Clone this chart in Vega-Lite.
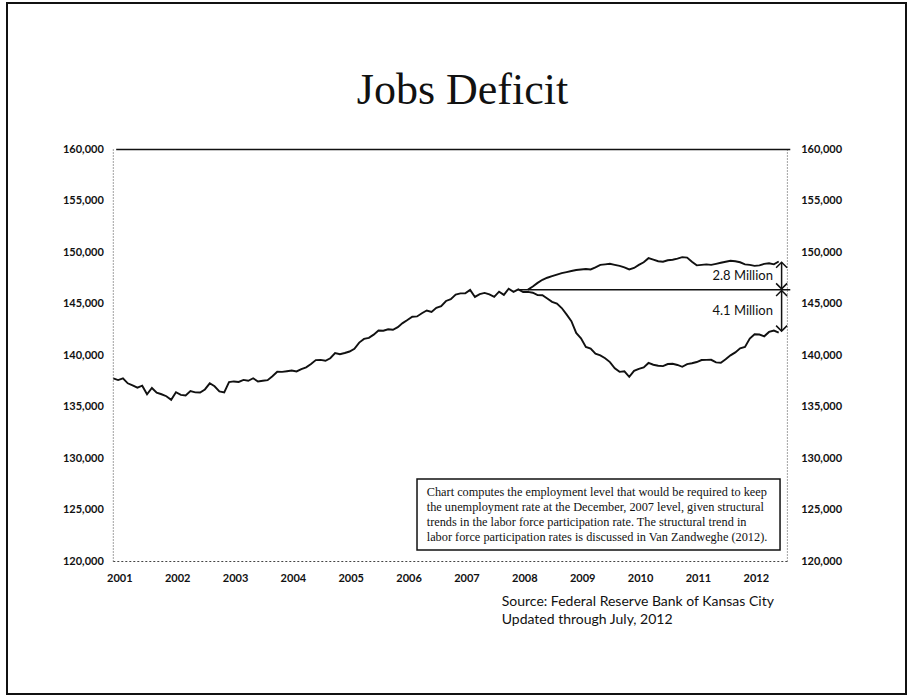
{
  "$schema": "https://vega.github.io/schema/vega-lite/v6.json",
  "width": 899,
  "height": 691,
  "autosize": "none",
  "padding": {"left": 7, "top": 3, "right": 3, "bottom": 2},
  "background": "white",
  "config": {
    "view": {"stroke": "#111", "strokeWidth": 2},
    "font": "Lato"
  },
  "title": {"text": "Jobs Deficit", "font": "Liberation Serif", "fontSize": 44, "fontWeight": "normal", "color": "#111", "anchor": "middle", "frame": "group", "offset": -145, "baseline": "alphabetic", "dx": 6},
  "datasets": {
    "employment": [
      {"series": "actual", "year": 2001.0, "value": 137778}, {"series": "actual", "year": 2001.083, "value": 137612}, {"series": "actual", "year": 2001.167, "value": 137783}, {"series": "actual", "year": 2001.25, "value": 137299}, {"series": "actual", "year": 2001.333, "value": 137092}, {"series": "actual", "year": 2001.417, "value": 136873}, {"series": "actual", "year": 2001.5, "value": 137071}, {"series": "actual", "year": 2001.583, "value": 136241}, {"series": "actual", "year": 2001.667, "value": 136846}, {"series": "actual", "year": 2001.75, "value": 136392}, {"series": "actual", "year": 2001.833, "value": 136238}, {"series": "actual", "year": 2001.917, "value": 136047},
      {"series": "actual", "year": 2002.0, "value": 135701}, {"series": "actual", "year": 2002.083, "value": 136438}, {"series": "actual", "year": 2002.167, "value": 136177}, {"series": "actual", "year": 2002.25, "value": 136126}, {"series": "actual", "year": 2002.333, "value": 136539}, {"series": "actual", "year": 2002.417, "value": 136415}, {"series": "actual", "year": 2002.5, "value": 136413}, {"series": "actual", "year": 2002.583, "value": 136705}, {"series": "actual", "year": 2002.667, "value": 137302}, {"series": "actual", "year": 2002.75, "value": 137008}, {"series": "actual", "year": 2002.833, "value": 136521}, {"series": "actual", "year": 2002.917, "value": 136426},
      {"series": "actual", "year": 2003.0, "value": 137417}, {"series": "actual", "year": 2003.083, "value": 137482}, {"series": "actual", "year": 2003.167, "value": 137434}, {"series": "actual", "year": 2003.25, "value": 137633}, {"series": "actual", "year": 2003.333, "value": 137544}, {"series": "actual", "year": 2003.417, "value": 137790}, {"series": "actual", "year": 2003.5, "value": 137474}, {"series": "actual", "year": 2003.583, "value": 137549}, {"series": "actual", "year": 2003.667, "value": 137609}, {"series": "actual", "year": 2003.75, "value": 137984}, {"series": "actual", "year": 2003.833, "value": 138424}, {"series": "actual", "year": 2003.917, "value": 138411},
      {"series": "actual", "year": 2004.0, "value": 138472}, {"series": "actual", "year": 2004.083, "value": 138542}, {"series": "actual", "year": 2004.167, "value": 138453}, {"series": "actual", "year": 2004.25, "value": 138680}, {"series": "actual", "year": 2004.333, "value": 138852}, {"series": "actual", "year": 2004.417, "value": 139174}, {"series": "actual", "year": 2004.5, "value": 139556}, {"series": "actual", "year": 2004.583, "value": 139573}, {"series": "actual", "year": 2004.667, "value": 139487}, {"series": "actual", "year": 2004.75, "value": 139732}, {"series": "actual", "year": 2004.833, "value": 140231}, {"series": "actual", "year": 2004.917, "value": 140125},
      {"series": "actual", "year": 2005.0, "value": 140245}, {"series": "actual", "year": 2005.083, "value": 140385}, {"series": "actual", "year": 2005.167, "value": 140654}, {"series": "actual", "year": 2005.25, "value": 141254}, {"series": "actual", "year": 2005.333, "value": 141609}, {"series": "actual", "year": 2005.417, "value": 141714}, {"series": "actual", "year": 2005.5, "value": 142026}, {"series": "actual", "year": 2005.583, "value": 142434}, {"series": "actual", "year": 2005.667, "value": 142401}, {"series": "actual", "year": 2005.75, "value": 142548}, {"series": "actual", "year": 2005.833, "value": 142499}, {"series": "actual", "year": 2005.917, "value": 142752},
      {"series": "actual", "year": 2006.0, "value": 143142}, {"series": "actual", "year": 2006.083, "value": 143444}, {"series": "actual", "year": 2006.167, "value": 143765}, {"series": "actual", "year": 2006.25, "value": 143794}, {"series": "actual", "year": 2006.333, "value": 144108}, {"series": "actual", "year": 2006.417, "value": 144370}, {"series": "actual", "year": 2006.5, "value": 144229}, {"series": "actual", "year": 2006.583, "value": 144631}, {"series": "actual", "year": 2006.667, "value": 144797}, {"series": "actual", "year": 2006.75, "value": 145292}, {"series": "actual", "year": 2006.833, "value": 145477}, {"series": "actual", "year": 2006.917, "value": 145914},
      {"series": "actual", "year": 2007.0, "value": 146032}, {"series": "actual", "year": 2007.083, "value": 146043}, {"series": "actual", "year": 2007.167, "value": 146368}, {"series": "actual", "year": 2007.25, "value": 145686}, {"series": "actual", "year": 2007.333, "value": 145952}, {"series": "actual", "year": 2007.417, "value": 146079}, {"series": "actual", "year": 2007.5, "value": 145926}, {"series": "actual", "year": 2007.583, "value": 145685}, {"series": "actual", "year": 2007.667, "value": 146193}, {"series": "actual", "year": 2007.75, "value": 145885}, {"series": "actual", "year": 2007.833, "value": 146483}, {"series": "actual", "year": 2007.917, "value": 146173},
      {"series": "actual", "year": 2008.0, "value": 146421}, {"series": "actual", "year": 2008.083, "value": 146165}, {"series": "actual", "year": 2008.167, "value": 146173}, {"series": "actual", "year": 2008.25, "value": 146091}, {"series": "actual", "year": 2008.333, "value": 145862}, {"series": "actual", "year": 2008.417, "value": 145849}, {"series": "actual", "year": 2008.5, "value": 145532}, {"series": "actual", "year": 2008.583, "value": 145210}, {"series": "actual", "year": 2008.667, "value": 145042}, {"series": "actual", "year": 2008.75, "value": 144609}, {"series": "actual", "year": 2008.833, "value": 143990}, {"series": "actual", "year": 2008.917, "value": 143324},
      {"series": "actual", "year": 2009.0, "value": 142187}, {"series": "actual", "year": 2009.083, "value": 141670}, {"series": "actual", "year": 2009.167, "value": 140837}, {"series": "actual", "year": 2009.25, "value": 140665}, {"series": "actual", "year": 2009.333, "value": 140183}, {"series": "actual", "year": 2009.417, "value": 140015}, {"series": "actual", "year": 2009.5, "value": 139734}, {"series": "actual", "year": 2009.583, "value": 139363}, {"series": "actual", "year": 2009.667, "value": 138758}, {"series": "actual", "year": 2009.75, "value": 138411}, {"series": "actual", "year": 2009.833, "value": 138460}, {"series": "actual", "year": 2009.917, "value": 137929},
      {"series": "actual", "year": 2010.0, "value": 138511}, {"series": "actual", "year": 2010.083, "value": 138708}, {"series": "actual", "year": 2010.167, "value": 138848}, {"series": "actual", "year": 2010.25, "value": 139277}, {"series": "actual", "year": 2010.333, "value": 139105}, {"series": "actual", "year": 2010.417, "value": 139000}, {"series": "actual", "year": 2010.5, "value": 138973}, {"series": "actual", "year": 2010.583, "value": 139172}, {"series": "actual", "year": 2010.667, "value": 139200}, {"series": "actual", "year": 2010.75, "value": 139082}, {"series": "actual", "year": 2010.833, "value": 138902}, {"series": "actual", "year": 2010.917, "value": 139159},
      {"series": "actual", "year": 2011.0, "value": 139246}, {"series": "actual", "year": 2011.083, "value": 139365}, {"series": "actual", "year": 2011.167, "value": 139560}, {"series": "actual", "year": 2011.25, "value": 139577}, {"series": "actual", "year": 2011.333, "value": 139583}, {"series": "actual", "year": 2011.417, "value": 139330}, {"series": "actual", "year": 2011.5, "value": 139296}, {"series": "actual", "year": 2011.583, "value": 139627}, {"series": "actual", "year": 2011.667, "value": 140012}, {"series": "actual", "year": 2011.75, "value": 140302}, {"series": "actual", "year": 2011.833, "value": 140702}, {"series": "actual", "year": 2011.917, "value": 140831},
      {"series": "actual", "year": 2012.0, "value": 141637}, {"series": "actual", "year": 2012.083, "value": 142065}, {"series": "actual", "year": 2012.167, "value": 142034}, {"series": "actual", "year": 2012.25, "value": 141865}, {"series": "actual", "year": 2012.333, "value": 142287}, {"series": "actual", "year": 2012.417, "value": 142415}, {"series": "actual", "year": 2012.5, "value": 142220},
      {"series": "required", "year": 2008.167, "value": 146400}, {"series": "required", "year": 2008.25, "value": 146700}, {"series": "required", "year": 2008.333, "value": 147050}, {"series": "required", "year": 2008.417, "value": 147350}, {"series": "required", "year": 2008.5, "value": 147550}, {"series": "required", "year": 2008.583, "value": 147700}, {"series": "required", "year": 2008.667, "value": 147850}, {"series": "required", "year": 2008.75, "value": 148000}, {"series": "required", "year": 2008.833, "value": 148100}, {"series": "required", "year": 2008.917, "value": 148200},
      {"series": "required", "year": 2009.0, "value": 148300}, {"series": "required", "year": 2009.083, "value": 148350}, {"series": "required", "year": 2009.167, "value": 148400}, {"series": "required", "year": 2009.25, "value": 148350}, {"series": "required", "year": 2009.333, "value": 148550}, {"series": "required", "year": 2009.417, "value": 148800}, {"series": "required", "year": 2009.5, "value": 148850}, {"series": "required", "year": 2009.583, "value": 148900}, {"series": "required", "year": 2009.667, "value": 148800}, {"series": "required", "year": 2009.75, "value": 148700}, {"series": "required", "year": 2009.833, "value": 148550}, {"series": "required", "year": 2009.917, "value": 148350},
      {"series": "required", "year": 2010.0, "value": 148500}, {"series": "required", "year": 2010.083, "value": 148800}, {"series": "required", "year": 2010.167, "value": 149050}, {"series": "required", "year": 2010.25, "value": 149450}, {"series": "required", "year": 2010.333, "value": 149300}, {"series": "required", "year": 2010.417, "value": 149150}, {"series": "required", "year": 2010.5, "value": 149100}, {"series": "required", "year": 2010.583, "value": 149250}, {"series": "required", "year": 2010.667, "value": 149300}, {"series": "required", "year": 2010.75, "value": 149400}, {"series": "required", "year": 2010.833, "value": 149550}, {"series": "required", "year": 2010.917, "value": 149500},
      {"series": "required", "year": 2011.0, "value": 149100}, {"series": "required", "year": 2011.083, "value": 148750}, {"series": "required", "year": 2011.167, "value": 148800}, {"series": "required", "year": 2011.25, "value": 148850}, {"series": "required", "year": 2011.333, "value": 148800}, {"series": "required", "year": 2011.417, "value": 148900}, {"series": "required", "year": 2011.5, "value": 149000}, {"series": "required", "year": 2011.583, "value": 149100}, {"series": "required", "year": 2011.667, "value": 149200}, {"series": "required", "year": 2011.75, "value": 149150}, {"series": "required", "year": 2011.833, "value": 149050}, {"series": "required", "year": 2011.917, "value": 148850},
      {"series": "required", "year": 2012.0, "value": 148800}, {"series": "required", "year": 2012.083, "value": 148700}, {"series": "required", "year": 2012.167, "value": 148750}, {"series": "required", "year": 2012.25, "value": 148900}, {"series": "required", "year": 2012.333, "value": 148950}, {"series": "required", "year": 2012.417, "value": 148850}, {"series": "required", "year": 2012.5, "value": 149130}
    ],
    "hlines": [
      {"year": 2001.05, "year_end": 2012.7, "value": 160000},
      {"year": 2008.0, "year_end": 2012.7, "value": 146390}
    ],
    "axis_v": [
      {"year": 2001.0, "value": 120000, "value_end": 160000},
      {"year": 2012.65, "value": 120000, "value_end": 160000}
    ],
    "axis_h": [
      {"year": 2001.0, "year_end": 2012.65, "value": 120000}
    ],
    "shafts": [
      {"year": 2012.55, "value": 149050, "value_end": 146470},
      {"year": 2012.55, "value": 146310, "value_end": 142370}
    ],
    "heads": [
      {"year": 2012.55, "value": 149050, "dir": "up"},
      {"year": 2012.55, "value": 146470, "dir": "down"},
      {"year": 2012.55, "value": 146310, "dir": "up"},
      {"year": 2012.55, "value": 142370, "dir": "down"}
    ],
    "gap_labels": [
      {"year": 2012.40, "value": 147720, "text": "2.8 Million"},
      {"year": 2012.40, "value": 144300, "text": "4.1 Million"}
    ],
    "note_box": [
      {"year": 2006.249, "year_end": 2012.523, "value": 128010, "value_end": 121117}
    ],
    "note_text": [
      {"year": 2006.417, "value": 126777, "text": "Chart computes the employment level that would be required to keep"},
      {"year": 2006.417, "value": 125320, "text": "the unemployment rate at the December, 2007 level, given structural"},
      {"year": 2006.417, "value": 123864, "text": "trends in the labor force participation rate.  The structural trend in"},
      {"year": 2006.417, "value": 122350, "text": "labor force participation rates is discussed in Van Zandweghe  (2012)."}
    ],
    "source": [
      {"year": 2007.713, "value": 116097, "text": "Source: Federal Reserve Bank of Kansas City"},
      {"year": 2007.713, "value": 114320, "text": "Updated through July, 2012"}
    ]
  },
  "encoding": {
    "x": {"field": "year", "type": "quantitative", "scale": {"domain": [1999.1628, 2014.7], "nice": false, "zero": false}, "axis": null},
    "y": {"field": "value", "type": "quantitative", "scale": {"domain": [107136, 174223], "nice": false, "zero": false}, "axis": null}
  },
  "layer": [
    {
      "data": {"name": "employment"},
      "mark": {"type": "line", "color": "#111", "strokeWidth": 1.9, "interpolate": "linear"},
      "encoding": {
        "x": {"field": "year", "type": "quantitative", "scale": {"domain": [1999.1628, 2014.7], "nice": false, "zero": false},
          "axis": {"orient": "bottom", "offset": -132.5, "values": [2001, 2002, 2003, 2004, 2005, 2006, 2007, 2008, 2009, 2010, 2011, 2012], "format": "d", "domain": false, "ticks": false, "grid": false, "labelPadding": 11, "labelOffset": 6, "labelFont": "Lato", "labelFontSize": 11, "labelFontWeight": "bold", "labelColor": "#111", "title": null}},
        "y": {"field": "value", "type": "quantitative", "scale": {"domain": [107136, 174223], "nice": false, "zero": false},
          "axis": {"orient": "left", "offset": -106.3, "values": [120000, 125000, 130000, 135000, 140000, 145000, 150000, 155000, 160000], "format": ",.0f", "domain": false, "ticks": false, "grid": false, "labelPadding": 10, "labelFont": "Lato", "labelFontSize": 11, "labelFontWeight": "bold", "labelColor": "#111", "title": null}},
        "detail": {"field": "series", "type": "nominal"}
      }
    },
    {
      "data": {"name": "axis_v"},
      "mark": {"type": "rule", "color": "#444", "strokeWidth": 1, "strokeDash": [1, 2]},
      "encoding": {
        "y": {"field": "value", "type": "quantitative", "scale": {"domain": [107136, 174223], "nice": false, "zero": false},
          "axis": {"orient": "right", "offset": -119.3, "values": [120000, 125000, 130000, 135000, 140000, 145000, 150000, 155000, 160000], "format": ",.0f", "domain": false, "ticks": false, "grid": false, "labelPadding": 14, "labelFont": "Lato", "labelFontSize": 11, "labelFontWeight": "bold", "labelColor": "#111", "title": null}},
        "y2": {"field": "value_end"}
      }
    },
    {
      "data": {"name": "axis_h"},
      "mark": {"type": "rule", "color": "#444", "strokeWidth": 1, "strokeDash": [2, 2]},
      "encoding": {"x2": {"field": "year_end"}}
    },
    {
      "data": {"name": "hlines"},
      "mark": {"type": "rule", "color": "#111", "strokeWidth": 1.6},
      "encoding": {"x2": {"field": "year_end"}}
    },
    {
      "data": {"name": "shafts"},
      "mark": {"type": "rule", "color": "#111", "strokeWidth": 1.5},
      "encoding": {"y2": {"field": "value_end"}}
    },
    {
      "data": {"name": "heads"},
      "mark": {"type": "point", "filled": false, "color": "#111", "strokeWidth": 1.5, "size": 120, "opacity": 1},
      "encoding": {
        "shape": {"field": "dir", "type": "nominal", "scale": {"domain": ["up", "down"], "range": ["M-1,1L0,0L1,1", "M-1,-1L0,0L1,-1"]}, "legend": null}
      }
    },
    {
      "data": {"name": "gap_labels"},
      "mark": {"type": "text", "align": "right", "baseline": "middle", "font": "Lato", "fontSize": 13, "color": "#111"},
      "encoding": {"text": {"field": "text"}}
    },
    {
      "data": {"name": "note_box"},
      "mark": {"type": "rect", "fill": "white", "stroke": "#111", "strokeWidth": 1.5},
      "encoding": {"x2": {"field": "year_end"}, "y2": {"field": "value_end"}}
    },
    {
      "data": {"name": "note_text"},
      "mark": {"type": "text", "align": "left", "baseline": "middle", "font": "Liberation Serif", "fontSize": 12.3, "color": "#111"},
      "encoding": {"text": {"field": "text"}}
    },
    {
      "data": {"name": "source"},
      "mark": {"type": "text", "align": "left", "baseline": "middle", "font": "Lato", "fontSize": 14, "color": "#111"},
      "encoding": {"text": {"field": "text"}}
    }
  ],
  "resolve": {"axis": {"x": "independent", "y": "independent"}}
}
